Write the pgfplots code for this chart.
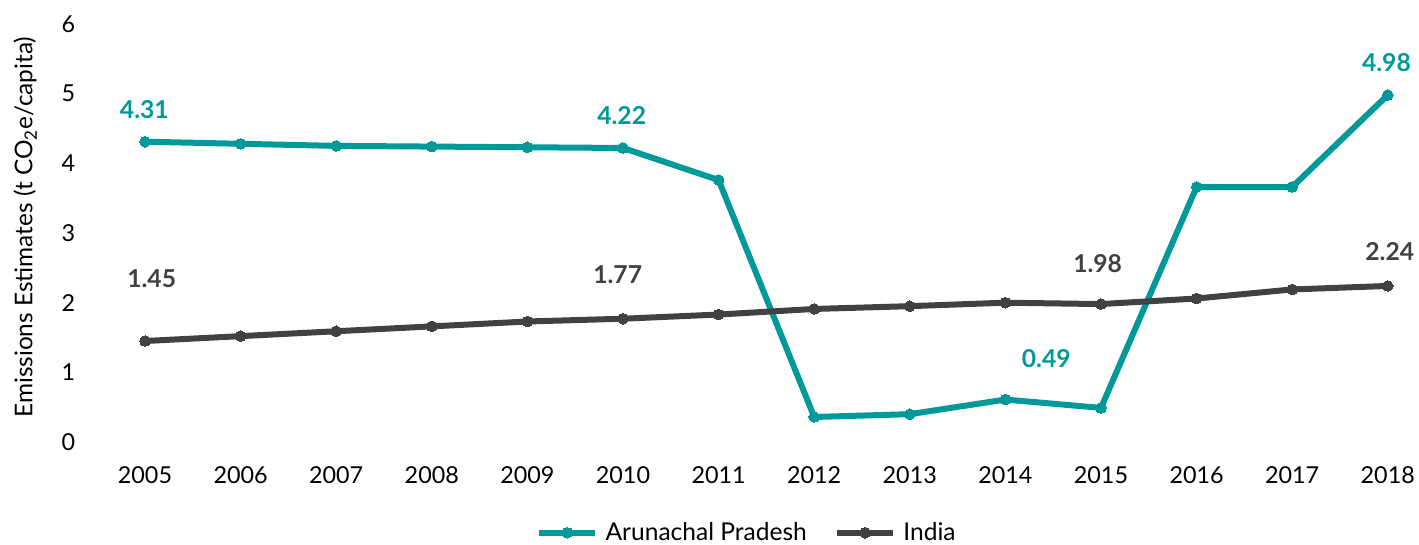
\documentclass[border=0pt]{standalone}
\usepackage{fontspec}
\setmainfont{Lato}
\usepackage{pgfplots}
\pgfplotsset{compat=1.18}
\usepackage{pgfplotstable}

\definecolor{apteal}{RGB}{0,153,153}
\definecolor{indgray}{RGB}{63,65,66}

% Per-capita emissions, t CO2e
\pgfplotstableread{
year ap
2005 4.31
2006 4.28
2007 4.25
2008 4.24
2009 4.23
2010 4.22
2011 3.76
2012 0.36
2013 0.40
2014 0.61
2015 0.49
2016 3.66
2017 3.66
2018 4.98
}\aptable

\pgfplotstableread{
year ind
2005 1.45
2006 1.52
2007 1.59
2008 1.66
2009 1.73
2010 1.77
2011 1.83
2012 1.91
2013 1.95
2014 2.00
2015 1.98
2016 2.06
2017 2.19
2018 2.24
}\indtable

% labelled points with label offsets (pt)
\pgfplotstableread{
year val label dx dy
2005 4.31 4.31 -0.5 24
2010 4.22 4.22 -1 24
2015 0.49 0.49 -41 37
2018 4.98 4.98 -1 24
}\aplabels

\pgfplotstableread{
year val label dx dy
2005 1.45 1.45 5 47
2010 1.77 1.77 -4 33
2015 1.98 1.98 -2.5 30
2018 2.24 2.24 1.5 26
}\indlabels

\begin{document}
\begin{tikzpicture}
\begin{axis}[
  at={(72.9pt,77.2pt)}, anchor=south west,
  scale only axis,
  width=996.6pt, height=313.6pt,
  xmin=2004.5, xmax=2018.4,
  ymin=0, ymax=6,
  clip=false,
  axis line style={draw=none},
  tick style={draw=none},
  xtick={2005,2006,...,2018},
  ytick={0,1,...,6},
  /pgf/number format/assume math mode=true,
  xticklabel style={/pgf/number format/1000 sep={}, yshift=-15pt},
  yticklabel style={xshift=-13pt},
  ticklabel style={font=\fontsize{17.5}{20}\selectfont, text=black},
  ylabel={Emissions Estimates (t CO\textsubscript{2}e/capita)},
  every axis y label/.style={at={(axis description cs:-0.0542,0.514)}, anchor=center, rotate=90, font=\fontsize{18.3}{21}\selectfont},
  legend columns=2,
  legend style={draw=none, fill=none, at={(axis description cs:0.489,0)}, anchor=center, yshift=-68pt,
    font=\fontsize{18.4}{21}\selectfont, inner sep=0pt,
    nodes={inner xsep=1.5pt, inner ysep=0pt},
    /tikz/every odd column/.append style={column sep=4pt},
    /tikz/every even column/.append style={column sep=19pt}},
  legend image code/.code={\draw[mark repeat=2, mark phase=2, #1] plot coordinates {(0pt,0pt) (21pt,0pt) (42pt,0pt)};},
]
\addplot[apteal, line width=4.5pt, line join=round, mark=*, mark size=4pt, mark options={solid, line width=0pt}]
  table[x=year, y=ap] {\aptable};
\addlegendentry{Arunachal Pradesh}
\addplot[indgray, line width=4.5pt, line join=round, mark=*, mark size=4pt, mark options={solid, line width=0pt}]
  table[x=year, y=ind] {\indtable};
\addlegendentry{India}

\addplot[draw=none, mark=none, forget plot,
  nodes near coords, point meta=explicit symbolic,
  visualization depends on={\thisrow{dx} \as \dx},
  visualization depends on={\thisrow{dy} \as \dy},
  nodes near coords style={anchor=center, xshift=\dx pt, yshift=\dy pt,
    font=\bfseries\fontsize{18.5}{21}\selectfont, text=apteal}]
  table[x=year, y=val, meta=label] {\aplabels};
\addplot[draw=none, mark=none, forget plot,
  nodes near coords, point meta=explicit symbolic,
  visualization depends on={\thisrow{dx} \as \dx},
  visualization depends on={\thisrow{dy} \as \dy},
  nodes near coords style={anchor=center, xshift=\dx pt, yshift=\dy pt,
    font=\bfseries\fontsize{18.5}{21}\selectfont, text=indgray}]
  table[x=year, y=val, meta=label] {\indlabels};
\end{axis}
\pgfresetboundingbox
\useasboundingbox (0,0) rectangle (1064.25pt,408.75pt);
\end{tikzpicture}
\end{document}
